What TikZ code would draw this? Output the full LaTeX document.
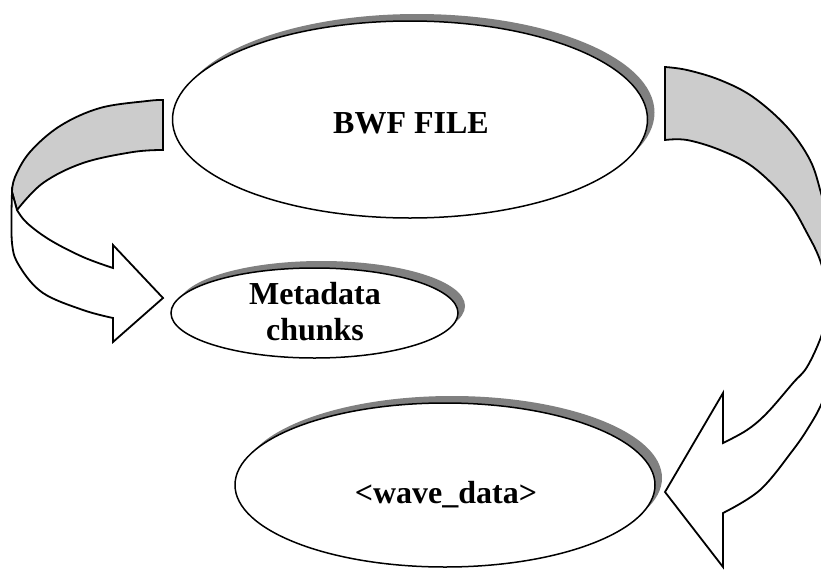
\documentclass[tikz,border=0pt]{standalone}
\usepackage{fontspec}
\setmainfont{Liberation Serif}
\usetikzlibrary{shapes.geometric,shadows}
\definecolor{bandgray}{HTML}{CCCCCC}
\definecolor{shadowgray}{HTML}{808080}
\tikzset{
  oval/.style={ellipse, draw, line width=1.5pt, fill=white, inner sep=0pt,
    drop shadow={shadow xshift=7pt, shadow yshift=7pt, fill=shadowgray, opacity=1}},
  lbl/.style={font=\bfseries\fontsize{32}{36}\selectfont, inner sep=0pt, align=center},
  band/.style={draw, line width=1.8pt, line join=miter, fill=bandgray},
  front/.style={draw, line width=1.8pt, line join=miter, fill=white}
}
\begin{document}
\begin{tikzpicture}[x=1pt,y=-1pt]
\useasboundingbox (0,0) rectangle (821,570);
\clip (0,0) rectangle (821,570);
\fill[white] (0,0) rectangle (821,570);

% ellipses
\node[oval, minimum width=475pt, minimum height=197pt] (bwf) at (410,119.5) {};
\node[oval, minimum width=287pt, minimum height=90pt] (meta) at (314.5,313) {};
\node[oval, minimum width=420pt, minimum height=164pt] (wave) at (445,485) {};

\node[lbl, anchor=base] (bwft) at (411,133) {BWF FILE};
\node[lbl] (metat) at (315,312) {Metadata\\chunks};
\node[lbl, anchor=base] (wavet) at (446,503) {<wave\_data>};

% left curved arrow: back (grey) part
\path[band] plot[smooth, tension=0.6] coordinates {(163,100) (147,101) (100,108) (60,126) (30,152) (15,177) (12,192)}
  -- plot[smooth, tension=0.6] coordinates {(17,210) (43,183) (83,163) (133,152) (163,150)} -- cycle;
% left curved arrow: front (white) part with head
\path[front] plot[smooth, tension=0.6] coordinates {(17,210) (27,223) (50,240) (83,257) (113,268)}
  -- (113,245) -- (163,298) -- (113,342)
  -- plot[smooth, tension=0.6] coordinates {(113,318) (83,310) (43,293) (20,267) (12,243) (12,192)} -- cycle;

% right curved arrow: back (grey) part
\path[band] plot[smooth, tension=0.6] coordinates {(665,67) (687,70) (720,80) (753,97) (787,127) (810,160) (821,193) (829,225)}
  -- (870,225) -- (870,300) --
  plot[smooth, tension=0.6] coordinates {(829,300) (821,263) (807,233) (787,200) (753,167) (720,150) (687,140) (665,140)} -- cycle;
% right curved arrow: front (white) part with head
\path[front] (870,310) -- plot[smooth, tension=0.6] coordinates {(828,310) (821,337) (807,367) (793,383) (767,413) (747,430) (723,443)}
  -- (723,393) -- (665,492) -- (723,567)
  -- plot[smooth, tension=0.6] coordinates {(723,513) (760,490) (793,450) (810,425) (821,405) (828,385)}
  -- (870,385) -- cycle;
\end{tikzpicture}
\end{document}
